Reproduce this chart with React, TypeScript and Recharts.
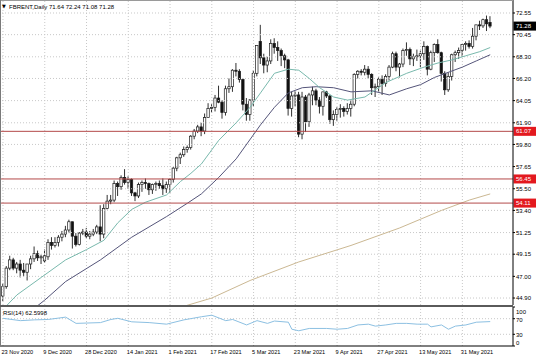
import React from 'react';
import { ComposedChart, Bar, Line, XAxis, YAxis, ReferenceLine } from 'recharts';

const FONT = "'Liberation Sans', Arial, sans-serif";
const W = 536;
const H = 357;
const X_DOMAIN: [number, number] = [-0.862, 146.55];
const PRICE_DOMAIN: [number, number] = [44.223, 73.811];

const opens = [
  45.1, 46.0, 47.8, 48.6, 47.8, 48.2, 47.6, 47.4, 48.2, 48.7,
  49.2, 48.8, 48.5, 48.9, 50.3, 50.0, 50.3, 50.8, 51.1, 51.5,
  52.3, 50.9, 50.1, 51.2, 51.3, 50.9, 51.1, 51.3, 51.8, 51.1,
  53.6, 54.3, 54.4, 56.0, 55.7, 56.6, 56.1, 56.4, 55.1, 54.8,
  55.9, 56.1, 56.0, 55.4, 55.9, 56.0, 55.8, 55.5, 55.9, 56.4,
  57.5, 58.5, 58.8, 59.3, 59.5, 60.6, 61.1, 61.5, 61.1, 62.4,
  63.3, 63.4, 64.3, 63.9, 62.9, 65.2, 65.4, 67.0, 66.9, 66.1,
  63.7, 62.7, 64.1, 66.7, 69.8, 68.2, 67.5, 67.9, 69.6, 69.2,
  68.9, 68.4, 68.0, 63.3, 64.5, 64.6, 60.8, 64.4, 62.0, 64.6,
  65.0, 64.1, 63.5, 64.9, 64.5, 62.2, 62.7, 63.2, 63.3, 63.0,
  63.3, 63.7, 66.6, 66.9, 66.8, 67.1, 66.6, 65.3, 65.4, 66.1,
  65.7, 66.4, 67.3, 68.6, 67.3, 67.6, 68.9, 69.0, 68.1, 68.3,
  68.4, 68.6, 69.3, 67.1, 68.7, 69.5, 68.7, 66.7, 65.1, 66.4,
  68.5, 68.7, 68.9, 69.5, 69.6, 69.3, 70.3, 71.4, 71.3, 71.9,
  71.64,
];
const highs = [
  46.3, 48.0, 49.0, 48.8, 48.4, 48.6, 48.3, 48.2, 49.0, 49.9,
  49.5, 49.1, 49.6, 50.6, 50.8, 50.8, 51.0, 51.4, 51.9, 52.5,
  52.3, 51.2, 51.3, 51.6, 51.7, 51.4, 51.6, 52.0, 53.9, 54.0,
  54.9, 54.9, 56.3, 56.2, 56.8, 57.4, 56.7, 56.5, 55.2, 56.1,
  56.3, 56.5, 56.1, 56.0, 56.2, 56.3, 56.5, 56.2, 56.5, 57.6,
  58.6, 59.0, 59.6, 59.7, 60.7, 61.3, 61.7, 61.9, 62.8, 63.8,
  63.7, 64.6, 65.5, 64.1, 65.5, 66.2, 67.1, 67.7, 67.1, 66.2,
  64.3, 64.2, 67.0, 69.4, 71.4, 68.6, 68.3, 70.0, 70.1, 69.8,
  69.1, 68.6, 68.1, 64.9, 65.0, 64.9, 64.9, 64.6, 64.8, 65.4,
  65.2, 64.4, 64.9, 65.0, 64.6, 63.1, 63.4, 63.7, 63.5, 63.8,
  64.1, 66.7, 67.0, 67.1, 67.5, 67.4, 66.7, 65.7, 66.3, 66.5,
  66.6, 67.5, 68.8, 68.8, 67.7, 69.1, 69.7, 69.2, 68.6, 69.0,
  68.9, 69.8, 69.4, 68.9, 69.6, 70.0, 68.8, 66.9, 66.8, 68.6,
  68.9, 69.2, 69.5, 69.8, 69.9, 71.1, 71.4, 71.8, 72.0, 72.3,
  72.24,
];
const lows = [
  44.6, 45.8, 47.6, 47.6, 47.3, 46.9, 47.0, 46.6, 47.7, 48.4,
  48.5, 48.2, 48.3, 48.6, 49.6, 49.8, 49.9, 50.4, 50.8, 51.2,
  49.7, 49.9, 50.0, 51.0, 50.7, 50.6, 50.9, 51.1, 50.4, 50.7,
  53.5, 54.0, 54.2, 54.8, 55.4, 55.9, 55.5, 54.8, 54.3, 54.6,
  55.2, 55.5, 54.9, 55.0, 55.3, 55.5, 54.9, 55.1, 55.1, 56.1,
  57.2, 57.9, 58.6, 59.0, 59.3, 60.3, 60.9, 60.6, 60.8, 62.4,
  62.9, 63.0, 63.8, 62.3, 62.6, 64.8, 64.9, 66.4, 65.8, 63.1,
  62.1, 62.1, 63.5, 66.4, 67.6, 66.7, 66.8, 67.6, 68.6, 67.9,
  67.4, 67.2, 62.6, 62.5, 63.5, 60.5, 60.3, 61.0, 61.5, 63.6,
  63.6, 62.8, 62.6, 64.3, 61.8, 61.6, 62.1, 62.4, 62.5, 62.7,
  62.5, 63.5, 66.2, 66.5, 66.5, 66.2, 64.6, 64.4, 64.9, 64.6,
  65.4, 66.0, 67.2, 66.9, 66.3, 67.3, 68.4, 67.5, 67.4, 67.9,
  67.3, 68.0, 66.5, 67.0, 67.8, 68.6, 65.9, 64.6, 64.9, 66.0,
  67.8, 68.1, 68.3, 68.9, 69.1, 69.1, 69.9, 70.9, 71.1, 70.8,
  71.08,
];
const closes = [
  46.0, 47.8, 48.6, 47.8, 48.2, 47.6, 47.4, 48.2, 48.7, 49.2,
  48.8, 48.9, 49.0, 50.3, 50.0, 50.3, 50.8, 51.1, 51.5, 52.3,
  50.9, 50.1, 51.2, 51.3, 50.9, 51.1, 51.3, 51.8, 51.1, 53.6,
  54.3, 54.4, 56.0, 55.7, 56.6, 56.1, 56.4, 55.1, 54.8, 55.9,
  56.1, 56.0, 55.4, 55.9, 56.0, 55.8, 55.5, 55.9, 56.4, 57.5,
  58.5, 58.8, 59.3, 59.5, 60.6, 61.1, 61.5, 61.1, 62.4, 63.3,
  63.4, 64.3, 63.9, 62.9, 65.2, 65.4, 67.0, 66.9, 66.1, 63.7,
  62.7, 64.1, 66.7, 69.4, 68.2, 67.5, 67.9, 69.6, 69.2, 68.9,
  68.4, 68.0, 63.3, 64.5, 64.6, 60.8, 64.4, 62.0, 64.6, 65.0,
  64.1, 63.5, 64.9, 64.5, 62.2, 62.7, 63.2, 63.3, 63.0, 63.3,
  63.7, 66.6, 66.9, 66.8, 67.1, 66.6, 65.3, 65.4, 66.1, 65.7,
  66.4, 67.3, 68.6, 67.3, 67.6, 68.9, 69.0, 68.1, 68.3, 68.4,
  68.6, 69.3, 67.1, 68.7, 69.5, 68.7, 66.7, 65.1, 66.4, 68.5,
  68.7, 68.9, 69.5, 69.6, 69.3, 70.3, 71.4, 71.3, 71.9, 71.5,
  71.28,
];

// [bar index, value]
const maFast: [number, number][] = [
  [0, 43.8], [4, 45.2], [11, 46.9], [18, 48.6], [24, 49.6], [29, 50.5], [33, 52.2],
  [37, 53.5], [41, 54.2], [47, 54.9], [51, 56.2], [54, 57.0], [57, 57.9], [62, 60.2],
  [67, 61.9], [71, 63.4], [74, 64.8], [78, 66.7], [82, 67.1], [85, 67.0], [88, 66.2],
  [91, 65.3], [95, 64.4], [99, 64.1], [104, 64.4], [110, 65.8], [116, 66.7], [121, 67.3],
  [125, 67.7], [129, 68.0], [133, 68.4], [137, 68.8], [140, 69.2],
];
const maSlow: [number, number][] = [
  [9, 43.9], [12, 44.7], [18, 46.5], [28, 48.6], [37, 50.8], [47, 52.8], [53, 54.1],
  [57, 55.0], [62, 56.6], [67, 58.4], [74, 61.7], [78, 63.4], [82, 64.8], [86, 65.3],
  [90, 65.4], [95, 65.3], [100, 64.9], [106, 65.0], [111, 64.6], [116, 65.2], [120, 65.6],
  [124, 66.3], [128, 66.8], [132, 67.3], [136, 67.9], [140, 68.5],
];
const ma200: [number, number][] = [
  [50, 43.9], [60, 44.9], [71, 46.6], [85, 48.4], [100, 50.0], [114, 51.7], [126, 53.4],
  [134, 54.4], [140, 55.0],
];
const rsiPoints: [number, number][] = [
  [0, 71], [5, 65], [9, 67], [13, 68], [18, 74], [21, 58], [28, 60], [31, 68], [33, 71],
  [37, 62], [42, 60], [47, 56], [52, 67], [57, 75], [60, 79], [64, 65], [66, 68], [70, 54],
  [73, 65], [76, 58], [78, 64], [82, 61], [83, 43], [85, 39], [88, 45], [93, 45], [96, 43],
  [99, 45], [102, 54], [105, 56], [107, 51], [110, 54], [113, 58], [116, 58], [119, 56],
  [122, 56], [123, 49], [126, 54], [128, 43], [130, 51], [133, 54], [136, 61], [140, 62.6],
];

const priceTicks = [72.55, 70.45, 68.3, 66.2, 64.05, 61.9, 59.8, 57.65, 55.5, 53.4, 51.25, 49.15, 47.0, 44.9];
const levelLines = [61.07, 56.45, 54.11];
const rsiTicks = [100, 70, 30, 0];
const rsiLevels = [70, 30];
const dateTickIdx = [0, 12, 24, 36, 48, 60, 72, 84, 96, 108, 120, 132];
const dateTickLabels = [
  '23 Nov 2020', '9 Dec 2020', '28 Dec 2020', '14 Jan 2021', '1 Feb 2021', '17 Feb 2021',
  '5 Mar 2021', '23 Mar 2021', '9 Apr 2021', '27 Apr 2021', '13 May 2021', '31 May 2021',
];
const gridIdx = dateTickIdx;
const symbol = 'FBRENT,Daily';
const rsiTitle = 'RSI(14) 62.5998';

const last = opens.length - 1;
const lastPrice = closes[last];

const toMap = (pts: [number, number][]) => new Map(pts.map(([k, v]) => [k, v]));
const fastMap = toMap(maFast);
const slowMap = toMap(maSlow);
const longMap = toMap(ma200);
const rsiMap = toMap(rsiPoints);

const data = opens.map((o, i) => ({
  i,
  o,
  h: highs[i],
  l: lows[i],
  c: closes[i],
  range: [lows[i], highs[i]],
  fast: fastMap.has(i) ? fastMap.get(i) : null,
  slow: slowMap.has(i) ? slowMap.get(i) : null,
  long: longMap.has(i) ? longMap.get(i) : null,
  rsi: rsiMap.has(i) ? rsiMap.get(i) : null,
}));

const Candle = (props: any) => {
  const { x, y, width, height, payload } = props;
  if (x == null || y == null || !payload) return null;
  const top = Math.min(y, y + height);
  const hh = Math.abs(height);
  const { o, h, l, c } = payload;
  const k = hh / (h - l || 1);
  const cx = x + width / 2;
  const yo = top + (h - o) * k;
  const yc = top + (h - c) * k;
  const bt = Math.min(yo, yc);
  const bh = Math.max(Math.abs(yc - yo), 0.8);
  const up = c >= o;
  return (
    <g>
      <line x1={cx} x2={cx} y1={top} y2={top + hh} stroke="#1a1a1a" strokeWidth={0.9} />
      <rect x={cx - 1.2} y={bt} width={2.4} height={bh} fill={up ? '#fff' : '#111'} stroke="#1a1a1a" strokeWidth={0.7} />
    </g>
  );
};

const boxLabel = (text: string, fill: string) => (p: any) => {
  const vb = p.viewBox || {};
  const x = (vb.x || 0) + (vb.width || 0);
  const y = vb.y || 0;
  return (
    <g>
      <rect x={x + 0.5} y={y - 4.5} width={22.5} height={9} fill={fill} />
      <text x={x + 3} y={y} dy="0.35em" fontSize={6} fontFamily={FONT} fill="#fff">{text}</text>
    </g>
  );
};

const RsiTick = (p: any) => {
  const v = p.payload.value;
  const shift = v === 100 ? 4.5 : v === 0 ? -3.5 : 1;
  return (
    <text x={p.x} y={p.y + shift} dy="0.35em" fontSize={6} fontFamily={FONT} fill="#000" textAnchor="start">{v}</text>
  );
};

const DateTick = (p: any) => {
  const k = dateTickIdx.indexOf(p.payload.value);
  return (
    <text x={p.x - 1.5} y={p.y + 5.7} dy="0.35em" fontSize={5.6} fontFamily={FONT} fill="#000" textAnchor="start">
      {dateTickLabels[k]}
    </text>
  );
};

const gridStroke = '#c8c8c8';

export default function App() {
  return (
    <div style={{ position: 'absolute', left: 0, top: 0, width: W, height: H, background: '#fff', overflow: 'hidden' }}>
      <div style={{ position: 'absolute', left: 0, top: 0 }}>
        <ComposedChart width={W} height={H} data={data} margin={{ top: 0, right: 0, bottom: 52, left: 0 }}>
          {priceTicks.map((v) => (
            <ReferenceLine key={'hg' + v} y={v} stroke={gridStroke} strokeDasharray="1 2" />
          ))}
          {gridIdx.map((v) => (
            <ReferenceLine key={'vg' + v} x={v} stroke={gridStroke} strokeDasharray="1 2" />
          ))}
          <XAxis dataKey="i" type="number" domain={X_DOMAIN} allowDataOverflow hide />
          <YAxis
            orientation="right"
            width={23}
            domain={PRICE_DOMAIN}
            allowDataOverflow
            ticks={priceTicks}
            interval={0}
            tickFormatter={(v: number) => v.toFixed(2)}
            tick={{ fontSize: 6, fill: '#000', fontFamily: FONT }}
            tickSize={2}
            tickMargin={1}
            axisLine={{ stroke: '#000' }}
            tickLine={{ stroke: '#000' }}
          />
          <Bar dataKey="range" shape={Candle} barSize={3} isAnimationActive={false} />
          <Line dataKey="long" type="linear" stroke="#cbb893" strokeWidth={1} dot={false} connectNulls isAnimationActive={false} />
          <Line dataKey="slow" type="linear" stroke="#55557a" strokeWidth={1} dot={false} connectNulls isAnimationActive={false} />
          <Line dataKey="fast" type="linear" stroke="#79b9ad" strokeWidth={1} dot={false} connectNulls isAnimationActive={false} />
          {levelLines.map((v) => (
            <ReferenceLine key={'lv' + v} y={v} stroke="#b44a4a" strokeWidth={1} label={boxLabel(v.toFixed(2), '#e3191f')} />
          ))}
          <ReferenceLine y={lastPrice} stroke="none" label={boxLabel(lastPrice.toFixed(2), '#000')} />
        </ComposedChart>
      </div>
      <div style={{ position: 'absolute', left: 0, top: 0 }}>
        <ComposedChart width={W} height={H} data={data} margin={{ top: 307, right: 0, bottom: 0, left: 0 }}>
          {rsiLevels.map((v) => (
            <ReferenceLine key={'rl' + v} y={v} stroke={gridStroke} strokeDasharray="1 2" />
          ))}
          {gridIdx.map((v) => (
            <ReferenceLine key={'rvg' + v} x={v} stroke={gridStroke} strokeDasharray="1 2" />
          ))}
          <XAxis
            dataKey="i"
            type="number"
            domain={X_DOMAIN}
            allowDataOverflow
            ticks={dateTickIdx}
            interval={0}
            height={11}
            tick={DateTick}
            tickLine={false}
            tickSize={0}
            tickMargin={0}
            axisLine={{ stroke: '#000' }}
          />
          <YAxis
            orientation="right"
            width={23}
            domain={[0, 100]}
            allowDataOverflow
            ticks={rsiTicks}
            interval={0}
            tick={RsiTick}
            tickSize={2}
            tickMargin={1}
            axisLine={{ stroke: '#000' }}
            tickLine={{ stroke: '#000' }}
          />
          <Line dataKey="rsi" type="linear" stroke="#8cc0e2" strokeWidth={1} dot={false} connectNulls isAnimationActive={false} />
        </ComposedChart>
      </div>
      <svg width={W} height={H} style={{ position: 'absolute', left: 0, top: 0, pointerEvents: 'none' }}>
        <line x1={0} y1={0.5} x2={513} y2={0.5} stroke="#9a9a9a" />
        <line x1={0.5} y1={0} x2={0.5} y2={346} stroke="#7a7a7a" />
        <rect x={0} y={305} width={513} height={2} fill="#5a5a5a" />
        <text x={2} y={6.5} dy="0.35em" fontSize={5} fontFamily="'DejaVu Sans', sans-serif" fill="#000">▼</text>
        <text x={9} y={6.5} dy="0.35em" fontSize={6} fontFamily={FONT} fill="#000">
          {`${symbol} ${opens[last].toFixed(2)} ${highs[last].toFixed(2)} ${lows[last].toFixed(2)} ${closes[last].toFixed(2)}`}
        </text>
        <text x={3} y={313} dy="0.35em" fontSize={6} fontFamily={FONT} fill="#000">{rsiTitle}</text>
      </svg>
    </div>
  );
}
